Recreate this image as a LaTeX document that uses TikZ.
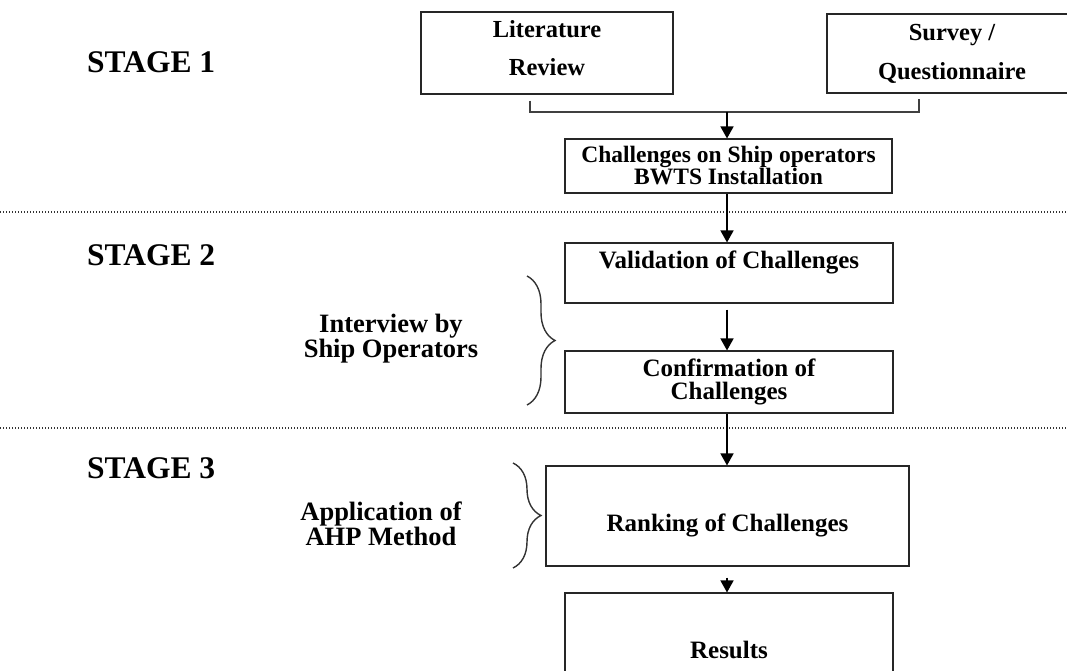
\documentclass[tikz,border=0pt]{standalone}
\usepackage{fontspec}
\setmainfont{Liberation Serif}
\usepackage{tikz}
\usetikzlibrary{positioning, arrows.meta, decorations.pathreplacing}

\newcommand\boxfont{\fontsize{25}{26}\selectfont\bfseries}
\newcommand\stagefont{\fontsize{31.5}{34}\selectfont\bfseries}
\newcommand\sidefont{\fontsize{26.5}{22}\selectfont\bfseries}

\begin{document}
\begin{tikzpicture}[x=1pt, y=-1pt,
    box/.style = {draw=black!85, line width=1.1pt, rectangle, align=center,
                  inner sep=0pt, font=\boxfont},
    stagelbl/.style = {anchor=west, inner sep=0pt, font=\stagefont},
    sidelbl/.style = {align=center, inner sep=0pt, font=\sidefont},
    link/.style = {draw=black!75, line width=1.1pt},
    arrow/.style = {line width=1.5pt, -{Triangle[length=12pt, width=13pt]}},
    sepline/.style = {draw=black!80, line width=1.6pt,
                      dash pattern=on 1.3pt off 1.7pt},
    curly/.style = {draw=black!80, line width=1.4pt, decorate,
                    decoration={brace, amplitude=28pt}}]

    \clip (0,0) rectangle (1067,671);

    % Stages
    \node [stagelbl] (st1) at (87,62)  {STAGE 1};
    \node [stagelbl] (st2) at (87,255) {STAGE 2};
    \node [stagelbl] (st3) at (87,468) {STAGE 3};
    \draw [sepline] (0,212) -- (1067,212);
    \draw [sepline] (0,428) -- (1067,428);

    % Boxes
    \node [box, minimum width=252pt, minimum height=82pt, text depth=10pt,
           font=\fontsize{24.5}{38}\selectfont\bfseries] (lit) at (547,53)
          {Literature\\Review};
    \node [box, minimum width=250pt, minimum height=79pt,
           font=\fontsize{24.5}{39}\selectfont\bfseries] (survey) at (952,53.5)
          {Survey /\\Questionnaire};
    \node [box, minimum width=327pt, minimum height=54pt,
           font=\fontsize{23.5}{22}\selectfont\bfseries] (chal) at (728.5,166)
          {Challenges on Ship operators\\BWTS Installation};
    \node [box, minimum width=328pt, minimum height=60pt] (valid) at (729,273)
          {Validation of Challenges\\\mbox{}};
    \node [box, minimum width=328pt, minimum height=62pt,
           font=\fontsize{25}{23}\selectfont\bfseries] (confirm) at (729,382)
          {Confirmation of\\Challenges};
    \node [box, minimum width=363pt, minimum height=100pt,
           text height=36pt, text depth=6pt] (rank) at (727.5,516)
          {Ranking of Challenges};
    \node [box, minimum width=328pt, minimum height=114pt] (result) at (729,650)
          {Results};

    % Side notes
    \node [sidelbl] (interview) at (391,339) {Interview by\\Ship Operators};
    \node [sidelbl] (ahp) at (381,524) {Application of\\AHP Method};
    \draw [curly] (527,276) -- (527,405);
    \draw [curly] (513,463) -- (513,568);

    % Transitions
    \coordinate (merge) at (727,112);
    \draw [link] ([xshift=-17pt, yshift=-6pt]lit.south) |- (merge)
                 -| ([xshift=-33pt, yshift=-5pt]survey.south);
    \draw [arrow] (merge) -- (merge |- chal.north);
    \draw [arrow] (chal.south -| merge) -- (valid.north -| merge);
    \draw [arrow, shorten <=6pt] (valid.south -| merge) -- (confirm.north -| merge);
    \draw [arrow] (confirm.south -| merge) -- (rank.north -| merge);
    \draw [arrow, shorten <=11pt] (rank.south -| merge) -- (result.north -| merge);
\end{tikzpicture}
\end{document}
